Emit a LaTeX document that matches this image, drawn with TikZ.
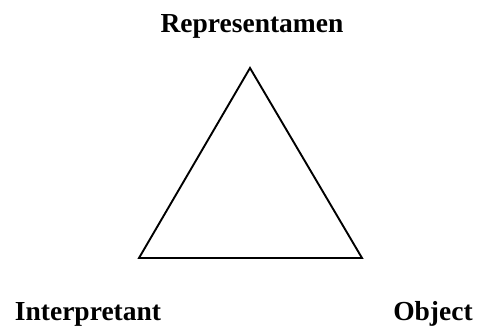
\documentclass[tikz,border=0pt]{standalone}
\usepackage{fontspec}
\setmainfont{Liberation Serif}
\begin{document}
\begin{tikzpicture}[x=1pt,y=-1pt,
  lbl/.style={font=\fontsize{27.5}{30}\selectfont\bfseries, text=black, inner sep=0pt, anchor=base},
  tri/.style={draw=black, line width=1.9pt, line join=miter}]
\useasboundingbox (0,0) rectangle (477,329);
\coordinate (r) at (250,68);
\coordinate (i) at (139,258);
\coordinate (o) at (362,258);
\draw[tri] (r) -- (i) -- (o) -- cycle;
\node[lbl] (rl) at (252,33) {Representamen};
\node[lbl] (il) at (88,320) {Interpretant};
\node[lbl] (ol) at (433,320) {Object};
\end{tikzpicture}
\end{document}
